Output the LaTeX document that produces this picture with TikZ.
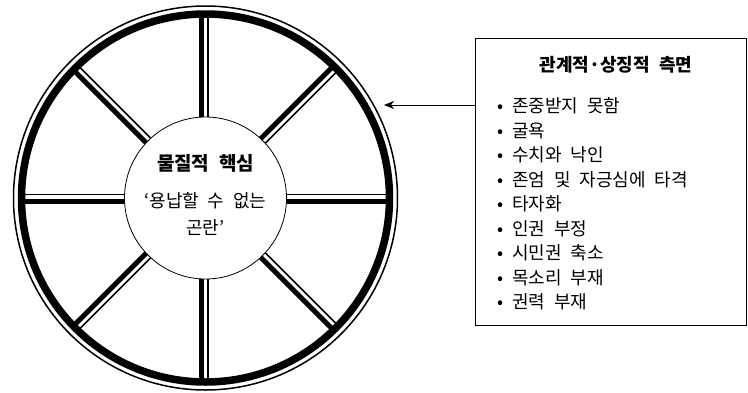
\documentclass[tikz,border=0pt]{standalone}
\usepackage{fontspec}
\setmainfont{Noto Sans CJK KR}[WordSpace=2.2]
\usetikzlibrary{calc,arrows.meta}
\begin{document}
\begin{tikzpicture}[x=1pt,y=-1pt,
  thickspoke/.style={line width=5pt},
  thinspoke/.style={line width=1.5pt},
  itemtext/.style={anchor=west,inner sep=0pt,font=\fontsize{18}{20}\selectfont},
  hubtext/.style={align=center,inner sep=0pt}]
\useasboundingbox (0,0) rectangle (748,392);
\coordinate (c) at (205.5,198);
% spokes
\draw[thickspoke] ($(c)+(-4,-184)$) -- ($(c)+(-4,184)$);
\draw[thinspoke]  ($(c)+(2.5,-184)$) -- ($(c)+(2.5,184)$);
\draw[thickspoke] ($(c)+(-184,3)$) -- ($(c)+(184,3)$);
\draw[thinspoke]  ($(c)+(-184,-3.5)$) -- ($(c)+(184,-3.5)$);
\draw[thickspoke] ($(c)+(127.9,-132.1)$) -- ($(c)+(-132.1,127.9)$);
\draw[thinspoke]  ($(c)+(132.5,-127.5)$) -- ($(c)+(-127.5,132.5)$);
\draw[thickspoke] ($(c)+(-132.1,-127.9)$) -- ($(c)+(127.9,132.1)$);
\draw[thinspoke]  ($(c)+(-127.5,-132.5)$) -- ($(c)+(132.5,127.5)$);
% hub
\node[circle,draw,fill=white,line width=0.8pt,minimum size=162pt,inner sep=0pt] (hub) at (c) {};
% rim
\draw[line width=7.5pt] (c) circle[radius=184];
\draw[line width=1.5pt] (c) circle[radius=192];
% hub text
\node[hubtext,font=\bfseries\fontsize{19}{22}\selectfont] (core) at (205.5,163) {물질적 핵심};
\node[hubtext,font=\fontsize{18}{27}\selectfont] (coretext) at (205.5,214) {‘용납할 수 없는\\곤란’};
% box
\node[draw,line width=0.8pt,minimum width=271pt,minimum height=287pt,anchor=north west,inner sep=0pt] (box) at (475,38) {};
\node[inner sep=0pt,font=\bfseries\fontsize{18}{20}\selectfont] (title) at (616,65) {관계적·상징적 측면};
\node[itemtext] (i1) at (497,106) {• 존중받지 못함};
\node[itemtext] (i2) at (497,130.5) {• 굴욕};
\node[itemtext] (i3) at (497,155) {• 수치와 낙인};
\node[itemtext] (i4) at (497,179.5) {• 존엄 및 자긍심에 타격};
\node[itemtext] (i5) at (497,204) {• 타자화};
\node[itemtext] (i6) at (497,228.5) {• 인권 부정};
\node[itemtext] (i7) at (497,253) {• 시민권 축소};
\node[itemtext] (i8) at (497,277.5) {• 목소리 부재};
\node[itemtext] (i9) at (497,302) {• 권력 부재};
% arrow
\coordinate (tip) at (384,105);
\draw[line width=0.9pt,-{Stealth[length=10pt,width=8pt,inset=3pt]}] ($(box.north west)+(0,67)$) -- (tip);
\end{tikzpicture}
\end{document}
